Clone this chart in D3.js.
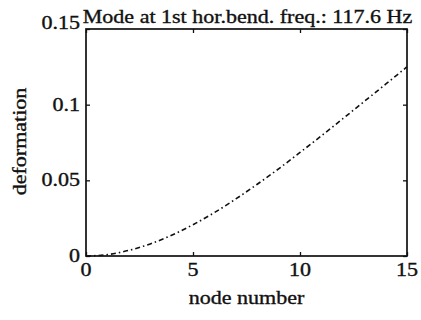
<!DOCTYPE html>
<html>
<head>
<meta charset="utf-8">
<script src="https://cdn.jsdelivr.net/npm/d3@7"></script>
<style>
  html, body { margin: 0; padding: 0; background: #fff; }
  svg { display: block; }
  text { font-family: "Liberation Serif", "DejaVu Serif", serif; fill: #111; }
</style>
</head>
<body>
<svg id="chart" width="421" height="320"></svg>
<script>
// Mode shape: lateral deformation at each node of the beam
const nodes = [0, 1, 2, 3, 4, 5, 6, 7, 8, 9, 10, 11, 12, 13, 14, 15];
const deformation = [0, 0.0009, 0.0037, 0.0080, 0.0137, 0.0207, 0.0287, 0.0377,
                     0.0474, 0.0576, 0.0684, 0.0794, 0.0907, 0.1021, 0.1135, 0.1250];
const xTicks = [0, 5, 10, 15];
const yTicks = [0, 0.05, 0.1, 0.15];
const yTickLabels = ["0", "0.05", "0.1", "0.15"];
const titleText = "Mode at 1st hor.bend. freq.: 117.6 Hz";
const xLabel = "node number";
const yLabel = "deformation";

(function () {
  const svg = d3.select("#chart");
  const margin = { left: 86, right: 14, top: 29, bottom: 64 };
  const W = 421, H = 320;
  const xL = margin.left, xR = W - margin.right;
  const yB = H - margin.bottom, yT = margin.top;

  const x = d3.scaleLinear().domain([0, 15]).range([xL, xR]);
  const y = d3.scaleLinear().domain([0, 0.15]).range([yB, yT]);

  const tickLen = 4;
  const fontSize = 19;
  const stretch = 1.16;   // wide, heavy typeface

  // text placed at (px, py), rotated by rot, widened along its own baseline
  function label(px, py, str, anchor, rot) {
    svg.append("text")
      .attr("transform", `translate(${px},${py}) rotate(${rot || 0}) scale(${stretch},1)`)
      .attr("text-anchor", anchor || "middle")
      .style("font-size", fontSize + "px")
      .attr("stroke", "#111").attr("stroke-width", 0.35)
      .text(str);
  }

  // inward ticks on all four sides
  const axBottom = svg.append("g").attr("transform", `translate(0,${yB})`)
    .call(d3.axisBottom(x).tickValues(xTicks).tickFormat("")
          .tickSizeInner(-tickLen).tickSizeOuter(0));
  const axTop = svg.append("g").attr("transform", `translate(0,${yT})`)
    .call(d3.axisTop(x).tickValues(xTicks).tickFormat("")
          .tickSizeInner(-tickLen).tickSizeOuter(0));
  const axLeft = svg.append("g").attr("transform", `translate(${xL},0)`)
    .call(d3.axisLeft(y).tickValues(yTicks).tickFormat("")
          .tickSizeInner(-tickLen).tickSizeOuter(0));
  const axRight = svg.append("g").attr("transform", `translate(${xR},0)`)
    .call(d3.axisRight(y).tickValues(yTicks).tickFormat("")
          .tickSizeInner(-tickLen).tickSizeOuter(0));

  [axBottom, axTop, axLeft, axRight].forEach(g => {
    g.select(".domain").remove();
    g.selectAll(".tick line").attr("stroke", "#111").attr("stroke-width", 1.3);
  });

  // tick labels
  xTicks.forEach(v => label(x(v), yB + 20, d3.format("d")(v), "middle"));
  yTicks.forEach((v, i) => {
    const lift = (i === yTicks.length - 1) ? -6 : 0;  // top label sits beside the title
    label(xL - 6, y(v) + 6 + lift, yTickLabels[i], "end");
  });

  // frame
  svg.append("rect")
    .attr("x", xL).attr("y", yT)
    .attr("width", xR - xL).attr("height", yB - yT)
    .attr("fill", "none").attr("stroke", "#111").attr("stroke-width", 1.7);

  // dash-dot curve
  const line = d3.line()
    .x((d, i) => x(nodes[i]))
    .y(d => y(d))
    .curve(d3.curveMonotoneX);

  svg.append("path")
    .datum(deformation)
    .attr("d", line)
    .attr("fill", "none")
    .attr("stroke", "#111")
    .attr("stroke-width", 1.6)
    .attr("stroke-dasharray", "5,3,1.5,3");

  // title and axis titles
  label((xL + xR) / 2 + 1, 23, titleText, "middle");
  label((xL + xR) / 2, 304, xLabel, "middle");
  label(26, (yB + yT) / 2 - 1, yLabel, "middle", -90);
})();
</script>
</body>
</html>
